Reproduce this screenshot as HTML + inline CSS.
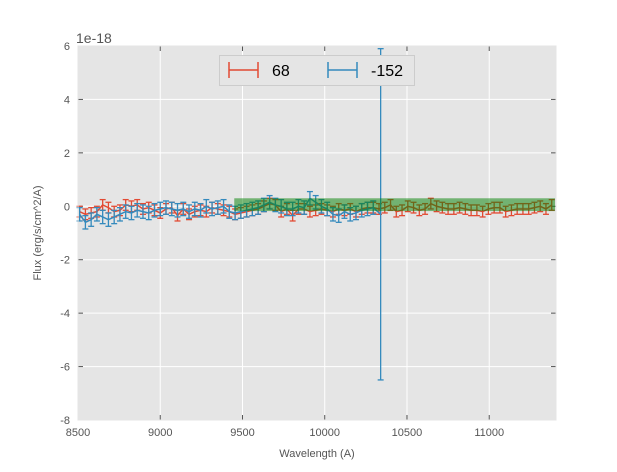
<!DOCTYPE html>
<html><head><meta charset="utf-8"><style>
body{margin:0;background:#fff;font-family:"Liberation Sans",sans-serif;}
svg text{font-family:"Liberation Sans",sans-serif;fill:#555;}
</style></head><body>
<svg id="c" width="617" height="467"></svg>
<script>
const redStart=8510, redStep=35;
const redValues=[-0.2,-0.3,-0.25,-0.2,0.05,-0.05,-0.2,-0.15,0.05,0.0,0.05,
-0.1,-0.05,-0.15,-0.25,-0.1,-0.05,-0.35,-0.1,-0.3,-0.2,-0.15,
-0.2,-0.05,-0.1,-0.15,-0.2,-0.3,-0.25,-0.2,-0.15,-0.1,0.0,
0.1,0.05,-0.2,-0.1,-0.35,-0.1,-0.1,-0.2,-0.15,-0.1,-0.15,
-0.2,-0.1,-0.15,-0.1,-0.2,-0.1,-0.05,-0.05,-0.1,-0.05,0.05,
-0.2,-0.15,0.0,-0.05,-0.15,-0.1,0.1,0.0,-0.05,-0.1,-0.1,
-0.05,-0.1,-0.15,-0.15,-0.2,-0.1,-0.05,-0.05,-0.2,-0.15,-0.1,
-0.1,-0.1,-0.05,0.0,-0.1,0.05];
const redErr=0.2;
const blueStart=8510, blueStep=35;
const blueValues=[-0.3,-0.6,-0.5,-0.3,-0.4,-0.5,-0.4,-0.3,-0.2,-0.25,-0.15,
-0.2,-0.25,-0.15,-0.1,-0.05,-0.1,-0.15,-0.1,-0.2,-0.1,-0.15,
0.0,-0.1,-0.05,0.0,-0.2,-0.25,-0.2,-0.15,-0.1,-0.05,0.05,
0.15,0.05,0.0,-0.1,-0.1,0.0,-0.05,0.3,0.15,0.0,-0.1,
-0.3,-0.35,-0.2,-0.3,-0.25,-0.15,-0.1,-0.05];
const blueLastX=10340, blueLastValue=-0.3;
const blueErr=0.25, blueLastErr=6.2;
const bandRange=[9450,11400], bandValues=[-0.18,0.3];
const xTicks=[8500,9000,9500,10000,10500,11000];
const yTicks=[-8,-6,-4,-2,0,2,4,6];

const svg=document.getElementById('c');const NS='http://www.w3.org/2000/svg';
const L=78,R=556,T=46,B=420,X0=8500,X1=11406,Y0=-8,Y1=6;
const sx=v=>L+(v-X0)/(X1-X0)*(R-L), sy=v=>B-(v-Y0)/(Y1-Y0)*(B-T);
function el(t,a,p){const e=document.createElementNS(NS,t);for(const k in a)e.setAttribute(k,a[k]);(p||svg).appendChild(e);return e;}
const bg=el('rect',{x:L,y:T,width:R-L,height:B-T,fill:'#e5e5e5'});


xTicks.forEach(v=>{const x=sx(v);
 el('line',{x1:x,x2:x,y1:T,y2:B,stroke:'#fff','stroke-width':1});
 el('line',{x1:x,x2:x,y1:B,y2:B-5,stroke:'#555'});el('line',{x1:x,x2:x,y1:T,y2:T+5,stroke:'#555'});
 const t=el('text',{x:x,y:B+16,'font-size':11,'text-anchor':'middle'});t.textContent=v;
 
 });
yTicks.forEach(v=>{const y=sy(v);
 el('line',{x1:L,x2:R,y1:y,y2:y,stroke:'#fff','stroke-width':1});
 el('line',{x1:L,x2:L+5,y1:y,y2:y,stroke:'#555'});el('line',{x1:R,x2:R-5,y1:y,y2:y,stroke:'#555'});
 const t=el('text',{x:L-8,y:y+4,'font-size':11,'text-anchor':'end'});t.textContent=v;
 
 });
function series(xs,vals,errs,color,name){
 const g=el('g',{});
 
 
 let d='';
 vals.forEach((v,i)=>{const x=sx(xs[i]),y=sy(v);d+=(i?'L':'M')+x+','+y;
  const e=errs[i];
  el('line',{x1:x,x2:x,y1:sy(v-e),y2:sy(v+e),stroke:color,'stroke-width':1.3},g);
  el('line',{x1:x-3,x2:x+3,y1:sy(v-e),y2:sy(v-e),stroke:color,'stroke-width':1.3},g);
  el('line',{x1:x-3,x2:x+3,y1:sy(v+e),y2:sy(v+e),stroke:color,'stroke-width':1.3},g);});
 el('path',{d:d,fill:'none',stroke:color,'stroke-width':1.5},g);}
const redX=redValues.map((_,i)=>redStart+i*redStep);
series(redX,redValues,redValues.map(()=>redErr),'#E24A33','series-68');
const blueX=blueValues.map((_,i)=>blueStart+i*blueStep).concat([blueLastX]);
const blueAll=blueValues.concat([blueLastValue]);
series(blueX,blueAll,blueAll.map((_,i)=>i===blueAll.length-1?blueLastErr:blueErr),'#348ABD','series-neg152');
const band=el('rect',{x:sx(bandRange[0]),y:sy(bandValues[1]),width:sx(bandRange[1])-sx(bandRange[0]),height:sy(bandValues[0])-sy(bandValues[1]),fill:'#008000','fill-opacity':0.5});


el('rect',{x:L,y:T,width:R-L,height:B-T,fill:'none',stroke:'#e5e5e5'});
</script>
<svg style="position:absolute;left:0;top:0" width="617" height="467">
<text x="76" y="43" font-size="14">1e-18</text>
<text x="317" y="457" font-size="11" text-anchor="middle">Wavelength (A)</text>
<text x="41" y="233" font-size="11" text-anchor="middle" transform="rotate(-90 41 233)">Flux (erg/s/cm^2/A)</text>
<g>
<rect x="219.5" y="55.5" width="195" height="30" fill="#e5e5e5" stroke="#ccc"/>
<g>
<line x1="229" x2="258" y1="70" y2="70" stroke="#E24A33" stroke-width="1.5"/>
<line x1="229" x2="229" y1="62" y2="78" stroke="#E24A33" stroke-width="1.5"/>
<line x1="258" x2="258" y1="62" y2="78" stroke="#E24A33" stroke-width="1.5"/>
<text x="272" y="76" font-size="16" style="fill:#000">68</text></g>
<g>
<line x1="328" x2="357" y1="70" y2="70" stroke="#348ABD" stroke-width="1.5"/>
<line x1="328" x2="328" y1="62" y2="78" stroke="#348ABD" stroke-width="1.5"/>
<line x1="357" x2="357" y1="62" y2="78" stroke="#348ABD" stroke-width="1.5"/>
<text x="371" y="76" font-size="16" style="fill:#000">-152</text></g>
</g></svg>
</body></html>
